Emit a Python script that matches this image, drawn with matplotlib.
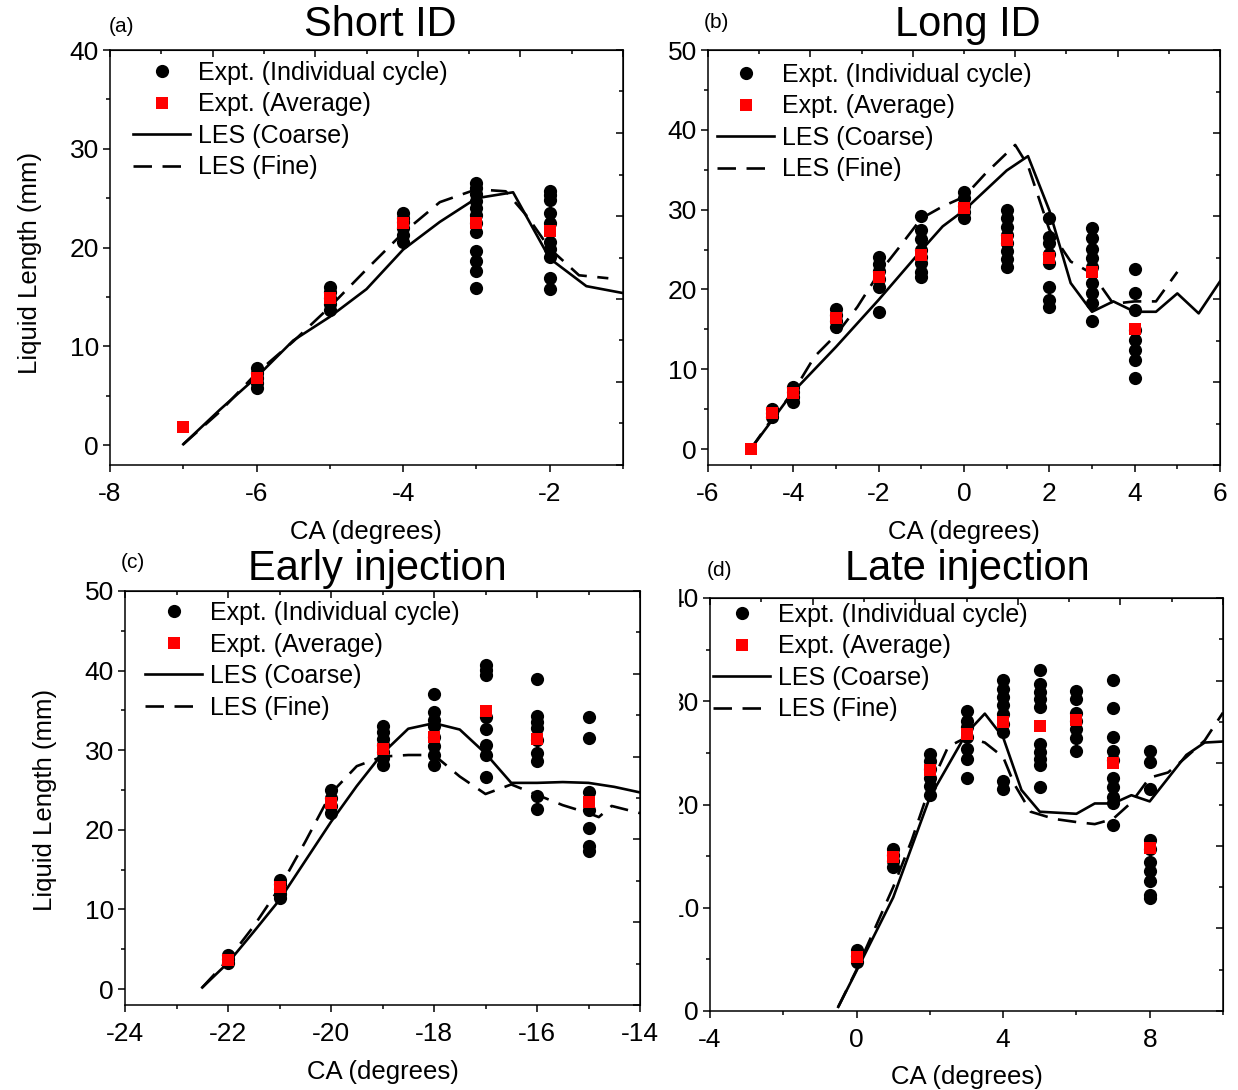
import matplotlib
matplotlib.use("Agg")
import matplotlib.pyplot as plt
from matplotlib.lines import Line2D
from matplotlib.patches import Rectangle
from matplotlib.ticker import MultipleLocator, NullFormatter

plt.rcParams['font.family'] = ['Liberation Sans', 'DejaVu Sans']
plt.rcParams['axes.unicode_minus'] = False

W, H = 1238, 1090

# ---- (a) Short ID ----
a_x = [-7, -6, -5, -4, -3, -2]
a_cycles = [
    [],
    [5.8, 6.3, 6.8, 7.3, 7.8],
    [13.7, 14.3, 14.9, 15.5, 16.0],
    [20.6, 21.3, 22.0, 22.6, 23.0, 23.5],
    [15.9, 17.6, 18.6, 19.7, 21.6, 22.5, 23.3, 24.0, 24.7, 25.4, 26.0, 26.5],
    [15.8, 16.9, 19.1, 19.9, 20.6, 22.5, 23.5, 24.8, 25.3, 25.7],
]
a_avg = [1.8, 6.8, 14.9, 22.5, 22.5, 21.7]
a_coarse_x = [-7, -6.5, -6, -5.5, -5, -4.5, -4, -3.5, -3, -2.5, -2, -1.5, -1]
a_coarse_y = [0.1, 3.6, 6.9, 10.6, 13.0, 15.8, 19.8, 22.6, 25.0, 25.6, 18.9, 16.1, 15.4]
a_fine_x = [-7, -6.5, -6, -5.5, -5, -4.5, -4, -3.5, -3, -2.6, -2.3, -2, -1.6, -1.2]
a_fine_y = [0.1, 3.4, 7.3, 10.5, 14.0, 17.8, 21.5, 24.6, 25.9, 25.7, 23.1, 19.9, 17.2, 16.9]

# ---- (b) Long ID ----
b_x = [-5, -4.5, -4, -3, -2, -1, 0, 1, 2, 3, 4]
b_cycles = [
    [],
    [4.0, 4.5, 5.0],
    [5.9, 6.5, 7.2, 7.8],
    [15.3, 16.0, 16.8, 17.6],
    [17.2, 20.3, 21.3, 22.3, 23.2, 24.1],
    [21.6, 22.2, 23.3, 24.1, 24.9, 26.3, 27.5, 29.2],
    [28.9, 29.7, 30.5, 31.4, 32.2],
    [22.8, 23.8, 24.8, 25.8, 26.8, 27.8, 28.9, 29.9],
    [17.8, 18.7, 20.3, 23.3, 24.5, 25.8, 26.6, 28.9],
    [16.0, 18.3, 19.5, 20.8, 22.8, 23.9, 25.1, 26.4, 27.7],
    [8.9, 11.2, 12.4, 13.7, 14.9, 17.4, 19.5, 22.5],
]
b_avg = [0.0, 4.5, 7.0, 16.4, 21.6, 24.3, 30.2, 26.2, 23.9, 22.2, 15.1]
b_coarse_x = [-5, -4.5, -4, -3, -2, -1, -0.5, 0, 1, 1.5, 2, 2.5, 3, 3.5, 4, 4.5, 5, 5.5, 6]
b_coarse_y = [0, 3.6, 7.2, 12.8, 18.7, 24.9, 27.9, 29.9, 34.9, 36.7, 29.9, 20.8, 17.2, 18.5, 17.2, 17.2, 19.5, 17.0, 21.0]
b_fine_x = [-5, -4.5, -4, -3.5, -3, -2.5, -2, -1.5, -1, -0.5, 0, 0.5, 1.2, 1.5, 2, 2.5, 3, 3.5, 4, 4.5, 5]
b_fine_y = [0, 3.8, 7.2, 11.6, 14.3, 17.8, 22.0, 25.4, 28.9, 30.4, 31.6, 34.5, 38.1, 35.5, 27.5, 23.5, 22.0, 18.2, 18.5, 18.5, 22.2]

# ---- (c) Early injection ----
c_x = [-22, -21, -20, -19, -18, -17, -16, -15]
c_cycles = [
    [3.3, 3.8, 4.3],
    [11.4, 12.0, 12.6, 13.2, 13.7],
    [22.1, 23.0, 24.0, 25.0],
    [28.2, 29.0, 29.8, 30.6, 31.4, 32.3, 33.1],
    [28.2, 29.4, 30.5, 31.7, 33.0, 33.8, 34.8, 37.1],
    [26.7, 29.4, 30.7, 32.7, 34.2, 39.5, 40.1, 40.7],
    [22.6, 24.2, 28.6, 29.6, 31.3, 32.8, 33.6, 34.3, 38.9],
    [17.3, 18.0, 20.2, 22.5, 24.8, 31.5, 34.2],
]
c_avg = [3.7, 12.8, 23.4, 30.2, 31.6, 34.9, 31.4, 23.5]
c_coarse_x = [-22.5, -22, -21.5, -21, -20.5, -20, -19.5, -19, -18.5, -18, -17.5, -17, -16.5, -16, -15.5, -15, -14.5, -14]
c_coarse_y = [0.2, 3.3, 7.2, 11.2, 16.1, 21.0, 25.5, 29.6, 32.7, 33.4, 32.6, 29.6, 25.9, 25.9, 26.0, 25.9, 25.4, 24.7]
c_fine_x = [-22.5, -22, -21.5, -21, -20.5, -20, -19.5, -19, -18.5, -18, -17.5, -17, -16.5, -16, -15.5, -15, -14.8, -14.55, -14]
c_fine_y = [0.2, 3.7, 7.9, 12.7, 18.5, 24.6, 28.0, 29.2, 29.4, 29.4, 26.7, 24.5, 25.7, 24.4, 23.1, 22.1, 21.6, 23.0, 22.1]

# ---- (d) Late injection ----
d_x = [0, 1, 2, 3, 4, 5, 6, 7, 8]
d_cycles = [
    [4.7, 5.3, 5.9],
    [13.9, 14.5, 15.1, 15.7],
    [20.9, 21.8, 22.6, 23.4, 24.2, 24.9],
    [22.6, 24.4, 25.4, 26.5, 27.5, 28.1, 29.1],
    [21.5, 22.3, 27.0, 27.8, 28.8, 29.6, 30.4, 31.2, 32.1],
    [21.7, 23.8, 24.4, 25.1, 25.9, 29.4, 30.2, 30.9, 31.7, 33.0],
    [25.2, 26.4, 27.3, 28.1, 28.9, 30.2, 31.0],
    [18.0, 20.1, 20.7, 21.7, 22.6, 24.3, 25.2, 26.5, 29.3, 32.1],
    [10.9, 11.2, 12.6, 13.6, 14.4, 15.7, 16.6, 21.5, 24.1, 25.2],
]
d_avg = [5.2, 14.9, 23.3, 26.8, 28.0, 27.6, 28.2, 24.0, 15.8]
d_coarse_x = [-0.5, 0, 1, 2, 3, 3.5, 4, 4.5, 5, 6, 6.5, 7, 7.5, 8, 9, 9.5, 10]
d_coarse_y = [0.4, 3.9, 11.0, 20.7, 26.9, 28.8, 26.5, 21.4, 19.3, 19.1, 20.1, 20.1, 20.9, 20.3, 24.8, 26.0, 26.1]
d_fine_x = [-0.5, 0, 1, 1.5, 2, 2.5, 3, 3.5, 4, 4.3, 4.75, 5.4, 6, 6.5, 7, 7.5, 8, 8.5, 9, 9.5, 10]
d_fine_y = [0.4, 4.0, 12.0, 16.5, 21.7, 25.6, 26.5, 26.0, 24.6, 22.0, 19.3, 18.6, 18.3, 18.1, 18.6, 20.2, 22.6, 23.1, 24.6, 26.2, 28.9]

legend_labels = ["Expt. (Individual cycle)", "Expt. (Average)", "LES (Coarse)", "LES (Fine)"]
DASH = (0, (7, 4))


def px_rect(left, top, right, bottom):
    return [left / W, 1 - bottom / H, (right - left) / W, (bottom - top) / H]


def draw_panel(fig, rect, xs, cycles, avg, cx, cy, fx, fy, xlim, ylim, xmaj, ymaj, leg_anchor):
    ax = fig.add_axes(rect)
    for x, ys in zip(xs, cycles):
        ax.plot([x] * len(ys), ys, 'o', color='black', ms=9.5, mew=0, zorder=2)
    ax.plot(cx, cy, '-', color='black', lw=1.9, zorder=3)
    ax.plot(fx, fy, color='black', lw=1.9, ls=DASH, zorder=3)
    ax.plot(xs, avg, 's', color='#ff0000', ms=8.3, mew=0, zorder=4)

    ax.set_xlim(*xlim)
    ax.set_ylim(*ylim)
    ax.xaxis.set_major_locator(MultipleLocator(xmaj))
    ax.xaxis.set_minor_locator(MultipleLocator(xmaj / 2))
    ax.yaxis.set_major_locator(MultipleLocator(ymaj))
    ax.yaxis.set_minor_locator(MultipleLocator(ymaj / 2))
    ax.tick_params(which='both', direction='out', top=False, right=False,
                   labelsize=19, width=1.1)
    ax.tick_params(which='major', length=5)
    ax.tick_params(which='minor', length=3)
    ax.tick_params(axis='x', pad=7)
    ax.tick_params(axis='y', pad=3)
    for s in ax.spines.values():
        s.set_linewidth(1.1)

    # top / right axes carry their own evenly spaced ticks (10 intervals)
    x0, x1 = xlim
    y0, y1 = ylim
    top = ax.secondary_xaxis('top', functions=(lambda v: (v - x0) / (x1 - x0) * 10,
                                               lambda u: x0 + u / 10 * (x1 - x0)))
    right = ax.secondary_yaxis('right', functions=(lambda v: (v - y0) / (y1 - y0) * 10,
                                                   lambda u: y0 + u / 10 * (y1 - y0)))
    for sec, axis in ((top, top.xaxis), (right, right.yaxis)):
        axis.set_major_locator(MultipleLocator(2))
        axis.set_minor_locator(MultipleLocator(1))
        axis.set_major_formatter(NullFormatter())
        sec.tick_params(which='both', direction='in', width=1.1)
        sec.tick_params(which='major', length=5)
        sec.tick_params(which='minor', length=3)

    handles = [
        Line2D([], [], ls='none', marker='o', color='black', ms=9.5, mew=0),
        Line2D([], [], ls='none', marker='s', color='#ff0000', ms=8.3, mew=0),
        Line2D([], [], color='black', lw=1.9),
        Line2D([], [], color='black', lw=1.9, ls=DASH),
    ]
    ax.legend(handles, legend_labels, loc='upper left', bbox_to_anchor=leg_anchor,
              frameon=False, fontsize=18, handlelength=2.28, handletextpad=0.3,
              labelspacing=0.3, borderaxespad=0, borderpad=0)
    return ax


fig = plt.figure(figsize=(W / 100, H / 100), dpi=100)

draw_panel(fig, px_rect(110, 50, 623, 465), a_x, a_cycles, a_avg,
           a_coarse_x, a_coarse_y, a_fine_x, a_fine_y,
           (-8, -1), (-2, 40), 2, 10, (0.045, 0.9735))
draw_panel(fig, px_rect(708, 50, 1220, 465), b_x, b_cycles, b_avg,
           b_coarse_x, b_coarse_y, b_fine_x, b_fine_y,
           (-6, 6), (-2, 50), 2, 10, (0.018, 0.9687))
draw_panel(fig, px_rect(125, 591, 640, 1005), c_x, c_cycles, c_avg,
           c_coarse_x, c_coarse_y, c_fine_x, c_fine_y,
           (-24, -14), (-2, 50), 2, 10, (0.039, 0.9758))
draw_panel(fig, px_rect(710, 598, 1223, 1011), d_x, d_cycles, d_avg,
           d_coarse_x, d_coarse_y, d_fine_x, d_fine_y,
           (-4, 10), (0, 40), 4, 10, (0.006, 0.9879))


def ftext(x, y, s, **kw):
    fig.text(x / W, 1 - y / H, s, ha='center', va='center', **kw)


ftext(380, 25, "Short ID", fontsize=30)
ftext(968, 25, "Long ID", fontsize=30)
ftext(377, 569, "Early injection", fontsize=30)
ftext(967, 569, "Late injection", fontsize=30)
ftext(122, 27, "(a)", fontsize=15)
ftext(716, 22, "(b)", fontsize=15)
ftext(133, 563, "(c)", fontsize=15)
ftext(719, 571, "(d)", fontsize=15)
ftext(366, 532, "CA (degrees)", fontsize=18.5)
ftext(964, 532, "CA (degrees)", fontsize=18.5)
ftext(383, 1072, "CA (degrees)", fontsize=18.5)
ftext(967, 1077, "CA (degrees)", fontsize=18.5)
ftext(30, 263, "Liquid Length (mm)", fontsize=18.5, rotation=90)
ftext(45, 800, "Liquid Length (mm)", fontsize=18.5, rotation=90)

# the left part of panel (d)'s y tick labels is cut off in the original
fig.add_artist(Rectangle((655 / W, 1 - 1000 / H), (678 - 655) / W, (1000 - 585) / H,
                         transform=fig.transFigure, color='white', zorder=10))

fig.savefig("out.png", dpi=100)
